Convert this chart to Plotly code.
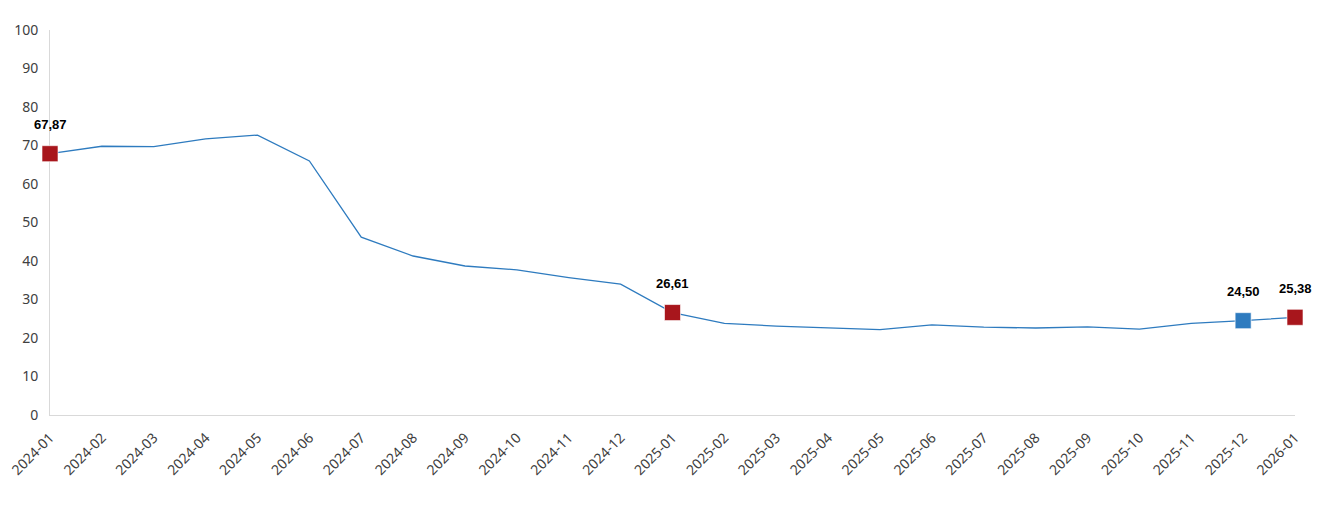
import plotly.graph_objects as go

months = ["2024-01","2024-02","2024-03","2024-04","2024-05","2024-06","2024-07","2024-08",
          "2024-09","2024-10","2024-11","2024-12","2025-01","2025-02","2025-03","2025-04",
          "2025-05","2025-06","2025-07","2025-08","2025-09","2025-10","2025-11","2025-12","2026-01"]
values = [67.87, 69.8, 69.7, 71.7, 72.7, 66.0, 46.2, 41.3, 38.7, 37.7, 35.7, 34.0, 26.61,
          23.8, 23.1, 22.6, 22.2, 23.4, 22.8, 22.6, 22.9, 22.3, 23.8, 24.50, 25.38]
red_months = ["2024-01", "2025-01", "2026-01"]
blue_months = ["2025-12"]

LINE = "#2E7BBF"
RED = "#A8161C"
BLUE = "#2E7BBF"

idx = list(range(len(months)))
fig = go.Figure()
fig.add_trace(go.Scatter(x=idx, y=values, mode="lines", line=dict(color=LINE, width=1.3),
                         cliponaxis=False, showlegend=False, hoverinfo="skip"))

def pts(sel):
    xs = [months.index(m) for m in sel]
    ys = [values[i] for i in xs]
    return xs, ys

for sel, col in [(red_months, RED), (blue_months, BLUE)]:
    xs, ys = pts(sel)
    fig.add_trace(go.Scatter(x=xs, y=ys, mode="markers", cliponaxis=False, showlegend=False,
                             marker=dict(symbol="square", size=16, color=col,
                                         line=dict(color="rgba(255,255,255,0.6)", width=1))))
    for x, y in zip(xs, ys):
        fig.add_annotation(x=x, y=y, xref="x", yref="y", text=f"{y:.2f}".replace(".", ","),
                           showarrow=False, yshift=29,
                           font=dict(family="Liberation Sans, Arial", size=13, color="#000000", weight="bold"))

fig.update_layout(
    width=1310, height=492,
    margin=dict(l=42, r=23, t=22, b=85),
    paper_bgcolor="white", plot_bgcolor="white",
    font=dict(family="Noto Sans, Open Sans, sans-serif", size=14, color="#404040"),
)
fig.update_xaxes(range=[0, 24], tickvals=idx, ticktext=months, tickangle=-45, automargin=False,
                 showgrid=False, zeroline=False, showline=True, linecolor="#D9D9D9", linewidth=1,
                 ticks="", layer="below traces", ticklabelstandoff=8, ticklabelshift=0,
                 ticklabeloverflow="allow",
                 tickfont=dict(size=14, color="#404040"))
fig.update_yaxes(range=[0, 100], dtick=10, showgrid=False, zeroline=False, showline=True,
                 automargin=False, layer="below traces",
                 linecolor="#D9D9D9", linewidth=1, ticks="", ticklabelstandoff=8,
                 tickfont=dict(size=14, color="#404040"))

fig.write_html("out.html")
